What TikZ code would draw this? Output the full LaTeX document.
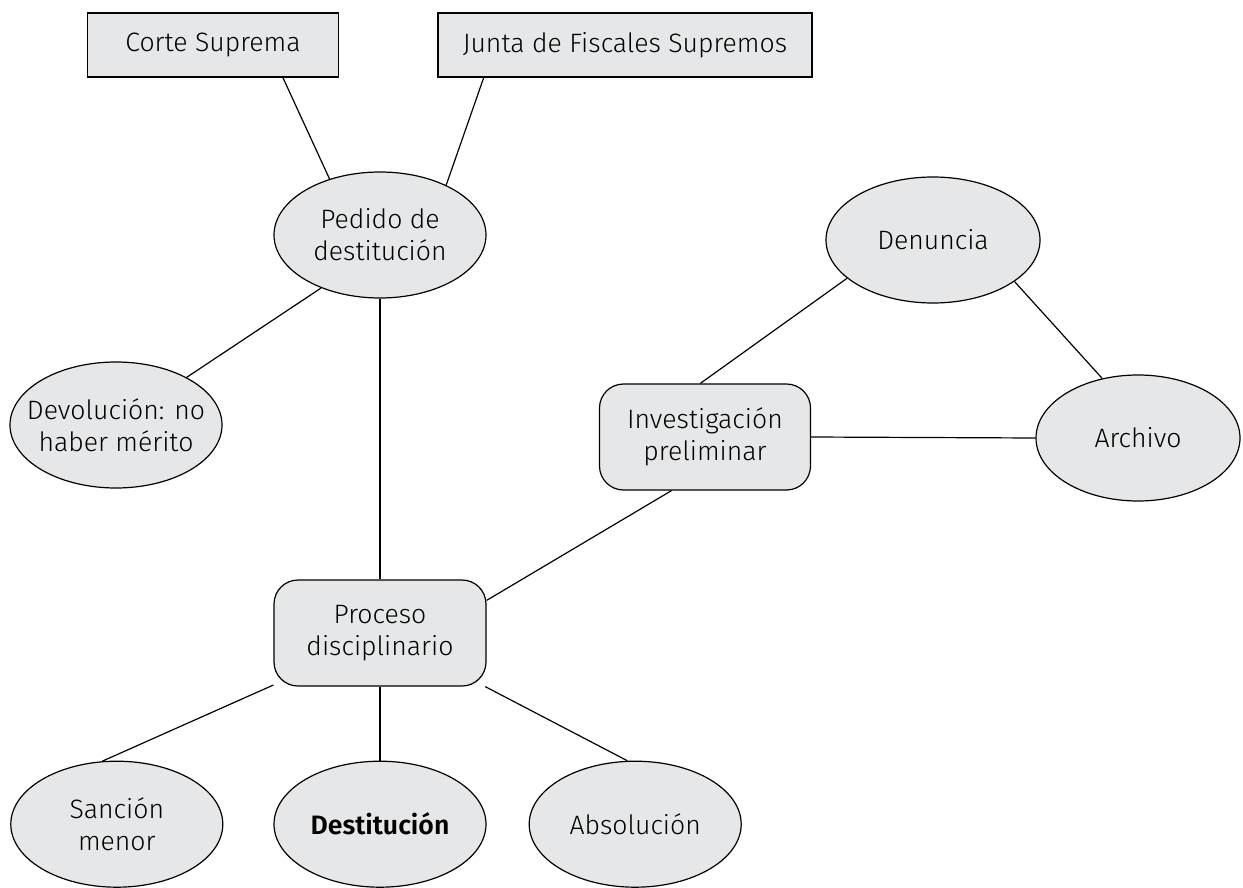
\documentclass[tikz,border=0pt]{standalone}
\usepackage{fontspec}
\setmainfont{Fira Sans}[UprightFont={* Light}, BoldFont={* SemiBold}]
\usepackage{xcolor}
\usetikzlibrary{shapes, positioning}
\definecolor{boxgray}{RGB}{230,231,232}
\tikzset{
    oval/.style={
        ellipse,
        draw=black,
        fill=boxgray,
        line width=0.6pt,
        minimum width=106pt,
        minimum height=63pt,
        inner xsep=-8pt,
        inner ysep=0pt,
        align=center,
    },
    body/.style={
        rectangle,
        draw=black,
        fill=boxgray,
        line width=0.6pt,
        minimum height=32pt,
        align=center,
    },
    stage/.style={
        rectangle,
        rounded corners=12pt,
        draw=black,
        fill=boxgray,
        line width=0.6pt,
        minimum width=106pt,
        minimum height=53pt,
        align=center,
    },
    link/.style={
        line width=0.6pt,
        draw=black,
    },
}

\begin{document}
\begin{tikzpicture}[x=0.5pt, y=-0.5pt, font=\fontsize{13.3}{16}\selectfont]
      \useasboundingbox (0,0) rectangle (1243,888);

      \node [body, minimum width=125.5pt] (corte) at (213,45) {Corte Suprema};
      \node [body, minimum width=187pt] (junta) at (625,45) {Junta de Fiscales Supremos};
      \node [oval] (pedido) at (380,235) {Pedido de\\destitución};
      \node [oval, minimum width=107pt] (denuncia) at (933,240) {Denuncia};
      \node [oval] (devolucion) at (116,425) {Devolución: no\\haber mérito};
      \node [stage, minimum width=105.5pt] (invest) at (705,437) {Investigación\\preliminar};
      \node [oval, minimum width=102pt] (archivo) at (1138,438) {Archivo};
      \node [stage] (proceso) at (380,633) {Proceso\\disciplinario};

      \node [oval] (destitucion) [below=37pt of proceso] {\textbf{Destitución}};
      \node [oval] (sancion) [left=25pt of destitucion] {Sanción\\menor};
      \node [oval] (absolucion) [right=21pt of destitucion] {Absolución};

      \path[link] (corte.-25) edge (pedido.132);
      \path[link] (junta.193.6) edge (pedido.37);
      \path[link] (pedido.222) edge (devolucion.34);
      \path[link] (pedido.south) edge (proceso.north);
      \path[link] (denuncia.204) edge (invest.95.5);
      \path[link] (denuncia.-27.5) edge (archivo.121);
      \path[link] (invest.east) edge (archivo.west);
      \path[link] (invest.238) edge (proceso.17.3);
      \path[link] (proceso.206) edge (sancion.103);
      \path[link] (proceso.south) edge (destitucion.north);
      \path[link] (proceso.-27.8) edge (absolucion.97.6);
    \end{tikzpicture}
\end{document}
